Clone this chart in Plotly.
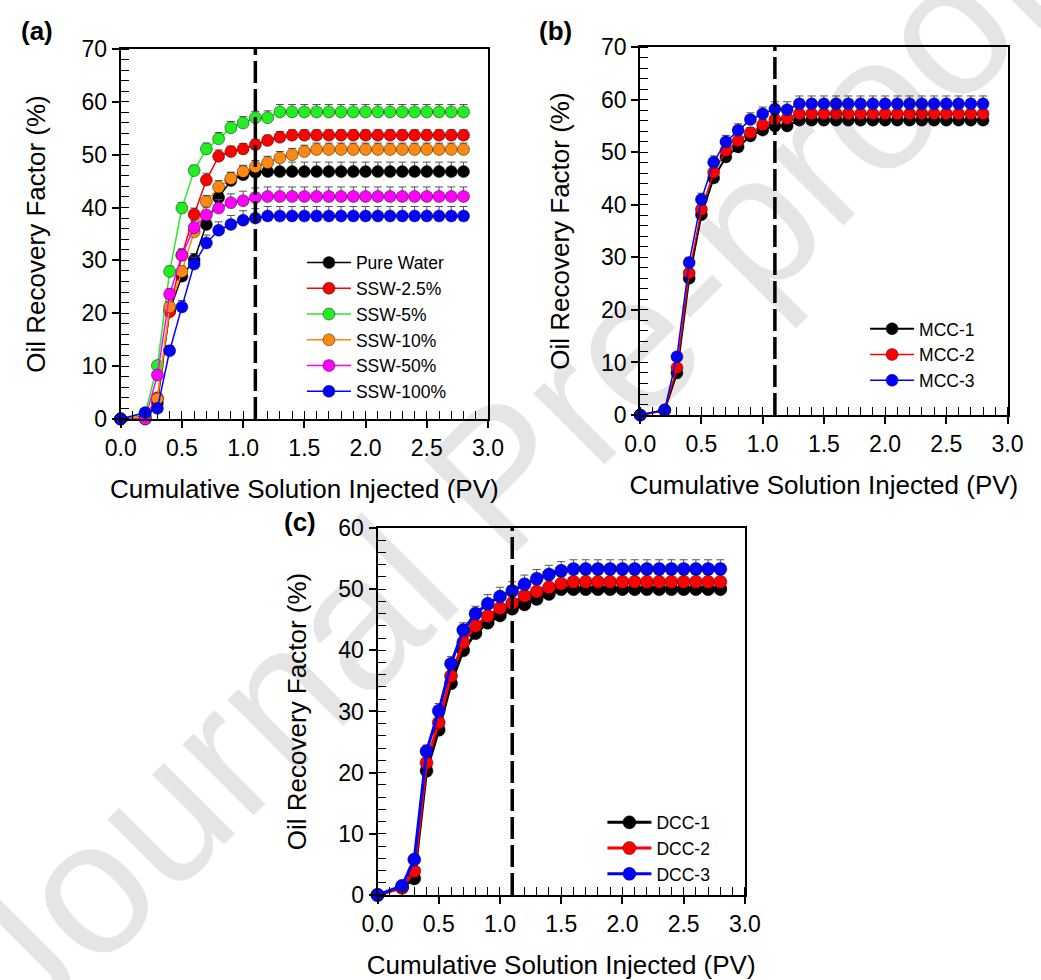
import plotly.graph_objects as go

# Injected pore volumes sampled in every coreflood
PV = [0.0, 0.2, 0.3, 0.4, 0.5, 0.6, 0.7, 0.8, 0.9, 1.0, 1.1, 1.2, 1.3, 1.4,
      1.5, 1.6, 1.7, 1.8, 1.9, 2.0, 2.1, 2.2, 2.3, 2.4, 2.5, 2.6, 2.7, 2.8]

# (a) brine / smart sea water floods, oil recovery factor (%)
PURE_WATER = [0, 0.0, 3.0, 20.5, 27.0, 30.1, 36.8, 41.9, 45.1, 46.2, 46.7] + [46.8] * 17
SSW_2_5 = [0, 0.5, 4.0, 20.3, 31.0, 38.7, 45.2, 49.7, 50.6, 51.1, 51.9, 52.7, 53.3] + [53.7] * 15
SSW_5 = [0, 1.0, 10.1, 27.9, 39.9, 47.0, 51.1, 53.0, 55.1, 56.0, 57.0, 57.0] + [58.1] * 16
SSW_10 = [0, 0.3, 3.8, 21.2, 27.9, 35.4, 41.1, 43.9, 45.5, 46.8, 47.7, 48.5, 49.4, 50.0, 50.6] + [51.0] * 13
SSW_50 = [0, 0.0, 8.3, 23.6, 31.0, 36.2, 38.6, 39.9, 40.9, 41.3, 41.9] + [42.1] * 17
SSW_100 = [0, 1.2, 2.0, 12.9, 21.2, 29.3, 33.3, 35.7, 36.8, 37.6, 38.0] + [38.4] * 17

ERR_PURE_WATER = [0, 0.8, 0.5, 1.0, 1.2, 1.2, 1.3, 1.4, 1.5, 1.6, 1.6] + [1.8] * 17
ERR_SSW_2_5 = [0, 0.5, 0.5, 1.0, 1.0, 1.2, 1.3, 1.2, 1.0, 1.0, 1.0, 1.0, 1.1] + [1.0] * 15
ERR_SSW_5 = [0, 0.5, 0.5, 1.0, 1.0, 1.0, 1.1, 1.2, 1.2, 1.2, 1.2, 1.3] + [1.4] * 16
ERR_SSW_10 = [0, 0.5, 0.5, 1.0, 1.0, 1.1, 1.2, 1.2, 1.2, 1.2, 1.2, 1.2, 1.2, 1.2, 1.2] + [1.2] * 13
ERR_SSW_50 = [0, 0.5, 0.5, 1.0, 1.2, 1.3, 1.5, 1.6, 1.7, 1.8, 1.8] + [1.8] * 17
ERR_SSW_100 = [0, 0.5, 0.5, 1.0, 1.2, 1.3, 1.5, 1.6, 1.7, 1.8, 1.8] + [1.8] * 17

# (b) MCC nanofluid floods
MCC_1 = [0, 0.9, 8.0, 26.0, 38.1, 45.1, 49.1, 51.0, 53.1, 54.2, 55.0, 55.0] + [56.1] * 16
MCC_2 = [0, 0.9, 9.0, 27.0, 39.1, 46.2, 50.3, 52.2, 53.7, 55.2, 56.2, 56.4] + [57.3] * 16
MCC_3 = [0, 1.0, 11.1, 29.0, 41.0, 48.1, 52.0, 54.2, 56.2, 57.3, 58.2, 58.1] + [59.2] * 16
ERR_MCC_1 = [0, 0.3, 0.5, 0.8, 1.0, 1.0, 1.0, 1.0, 1.0, 1.0, 1.0, 1.0] + [1.0] * 16
ERR_MCC_2 = [0, 0.3, 0.5, 0.8, 1.0, 1.0, 1.0, 1.0, 1.0, 1.0, 1.0, 1.0] + [1.2] * 16
ERR_MCC_3 = [0, 0.3, 0.8, 1.0, 1.2, 1.2, 1.2, 1.2, 1.3, 1.3, 1.4, 1.5] + [1.5] * 16

# (c) DCC nanofluid floods
DCC_1 = [0, 1.2, 2.7, 20.3, 27.0, 34.6, 40.0, 42.8, 44.5, 45.7, 46.8, 47.5, 48.4, 49.2] + [50.0] * 14
DCC_2 = [0, 1.2, 3.9, 21.6, 28.2, 35.8, 41.3, 44.0, 45.6, 46.9, 47.7, 48.9, 49.6, 50.3, 50.9] + [51.2] * 13
DCC_3 = [0, 1.5, 5.8, 23.5, 30.1, 37.8, 43.3, 46.0, 47.6, 48.8, 49.7, 50.8, 51.7, 52.4, 53.0] + [53.3] * 13
ERR_DCC_1 = [0, 0.3, 0.5, 0.8, 1.0, 1.0, 1.0, 1.0, 1.0, 1.0, 1.0, 1.0, 1.0, 1.0] + [1.0] * 14
ERR_DCC_2 = [0, 0.3, 0.5, 0.8, 1.0, 1.0, 1.0, 1.0, 1.2, 1.2, 1.2, 1.2, 1.2, 1.2, 1.2] + [1.2] * 13
ERR_DCC_3 = [0, 0.3, 0.8, 1.0, 1.2, 1.2, 1.2, 1.2, 1.5, 1.5, 1.5, 1.5, 1.5, 1.5, 1.5] + [1.5] * 13

# PV at which the injected fluid is switched (vertical dashed marker)
SWITCH_PV = [1.1, 1.1, 1.1]

FONT = "Liberation Sans, Arial, sans-serif"
W, H = 1041, 980

fig = go.Figure()


def add_series(name, y, err, color, xa, ya, legend, lw=1.5, msize=12):
    fig.add_trace(go.Scatter(
        x=PV, y=y, name=name, mode="lines+markers",
        xaxis=xa, yaxis=ya, legend=legend, cliponaxis=False,
        line=dict(color=color, width=lw),
        marker=dict(size=msize, color=color, symbol="circle",
                    line=dict(color="rgba(0,0,0,0.55)", width=0.8)),
        error_y=dict(type="data", symmetric=False, array=err,
                     arrayminus=[0] * len(err), color="#555555",
                     thickness=1, width=4),
    ))


add_series("Pure Water", PURE_WATER, ERR_PURE_WATER, "#000000", "x", "y", "legend")
add_series("SSW-2.5%", SSW_2_5, ERR_SSW_2_5, "#ff0000", "x", "y", "legend")
add_series("SSW-5%", SSW_5, ERR_SSW_5, "#22ee22", "x", "y", "legend")
add_series("SSW-10%", SSW_10, ERR_SSW_10, "#ff8811", "x", "y", "legend")
add_series("SSW-50%", SSW_50, ERR_SSW_50, "#ff00ff", "x", "y", "legend")
add_series("SSW-100%", SSW_100, ERR_SSW_100, "#0000ff", "x", "y", "legend")

add_series("MCC-1", MCC_1, ERR_MCC_1, "#000000", "x2", "y2", "legend2", lw=2)
add_series("MCC-2", MCC_2, ERR_MCC_2, "#ff0000", "x2", "y2", "legend2", lw=1.5)
add_series("MCC-3", MCC_3, ERR_MCC_3, "#0000ff", "x2", "y2", "legend2", lw=1.5)

add_series("DCC-1", DCC_1, ERR_DCC_1, "#000000", "x3", "y3", "legend3", lw=3, msize=13)
add_series("DCC-2", DCC_2, ERR_DCC_2, "#ff0000", "x3", "y3", "legend3", lw=3, msize=13)
add_series("DCC-3", DCC_3, ERR_DCC_3, "#0000ff", "x3", "y3", "legend3", lw=3, msize=13)

# panel boxes in pixels: left, right, top, bottom
BOXES = [(108, 487, 37, 417), (644, 1023, 35, 413), (373, 752, 529, 906)]
YMAX = [70, 70, 60]
Y_STANDOFF = [28, 24, 24]

layout = dict(
    width=W, height=H, margin=dict(l=0, r=0, t=0, b=0),
    paper_bgcolor="white", plot_bgcolor="white",
    font=dict(family=FONT, color="black"),
    showlegend=True,
)

for i, ((l, r, t, b), ymax) in enumerate(zip(BOXES, YMAX)):
    n = "" if i == 0 else str(i + 1)
    xdom = [l / W, r / W]
    ydom = [1 - b / H, 1 - t / H]
    layout["xaxis" + n] = dict(
        domain=xdom, anchor="y" + n, range=[0, 3], dtick=0.5, tick0=0,
        tickformat=".1f", ticks="outside", ticklen=7, tickwidth=1.5,
        tickcolor="black", showline=True, linewidth=2, linecolor="black",
        mirror=True, showgrid=False, zeroline=False,
        tickfont=dict(size=23, family=FONT),
        minor=dict(dtick=0.1, ticks="inside", ticklen=8, tickwidth=1,
                   tickcolor="black", showgrid=False),
        title=dict(text="Cumulative Solution Injected (PV)",
                   font=dict(size=26, family=FONT), standoff=20),
    )
    layout["yaxis" + n] = dict(
        domain=ydom, anchor="x" + n, range=[0, ymax], dtick=10,
        ticks="outside", ticklen=7, tickwidth=1.5, tickcolor="black",
        showline=True, linewidth=2, linecolor="black", mirror=True,
        showgrid=False, zeroline=False,
        tickfont=dict(size=23, family=FONT),
        minor=dict(dtick=2, ticks="inside", ticklen=8, tickwidth=1,
                   tickcolor="black", showgrid=False),
        title=dict(text="Oil Recovery Factor (%)",
                   font=dict(size=26, family=FONT), standoff=Y_STANDOFF[i]),
    )
    # inward ticks on the top and right frame edges
    layout["xaxis" + str(i + 4)] = dict(
        overlaying="x" + n, anchor="y" + n, side="top", range=[0, 3],
        dtick=0.1, tick0=0, ticks="inside", ticklen=8, tickwidth=1,
        tickcolor="black", showticklabels=False, showgrid=False,
        zeroline=False, showline=False,
    )
    layout["yaxis" + str(i + 4)] = dict(
        overlaying="y" + n, anchor="x" + n, side="right", range=[0, ymax],
        dtick=2, tick0=0, ticks="inside", ticklen=8, tickwidth=1,
        tickcolor="black", showticklabels=False, showgrid=False,
        zeroline=False, showline=False,
    )

legend_style = dict(font=dict(size=17.5, family=FONT), bgcolor="rgba(0,0,0,0)",
                    xanchor="left", yanchor="top", itemwidth=44,
                    tracegroupgap=0, traceorder="normal")
layout["legend"] = dict(x=295 / W, y=1 - 238 / H, **legend_style)
layout["legend2"] = dict(x=876 / W, y=1 - 306 / H, **legend_style)
layout["legend3"] = dict(x=605 / W, y=1 - 813 / H, **legend_style)

fig.update_layout(**layout)

# vertical dashed marker in each panel
for i, pv in enumerate(SWITCH_PV):
    n = "" if i == 0 else str(i + 1)
    fig.add_shape(type="line", xref="x" + n, yref="y" + n + " domain",
                  x0=pv, x1=pv, y0=0, y1=1,
                  line=dict(color="black", width=3.5, dash="22px,6px"))

# panel letters
for txt, px, py in [("(a)", 3, 18), ("(b)", 538, 18), ("(c)", 274, 523)]:
    fig.add_annotation(text="<b>%s</b>" % txt, x=px / W, y=1 - py / H,
                       xref="paper", yref="paper", xanchor="left",
                       yanchor="middle", showarrow=False,
                       font=dict(size=26, family=FONT, color="black"))

# diagonal watermark
fig.add_annotation(text="Journal Pre-proof", x=500 / W, y=1 - 475 / H,
                   xref="paper", yref="paper", xanchor="center",
                   yanchor="middle", showarrow=False, textangle=-45,
                   font=dict(size=190, family=FONT, color="rgba(0,0,0,0.10)"))

fig.write_html("out.html", post_script="document.body.style.margin='0';")
